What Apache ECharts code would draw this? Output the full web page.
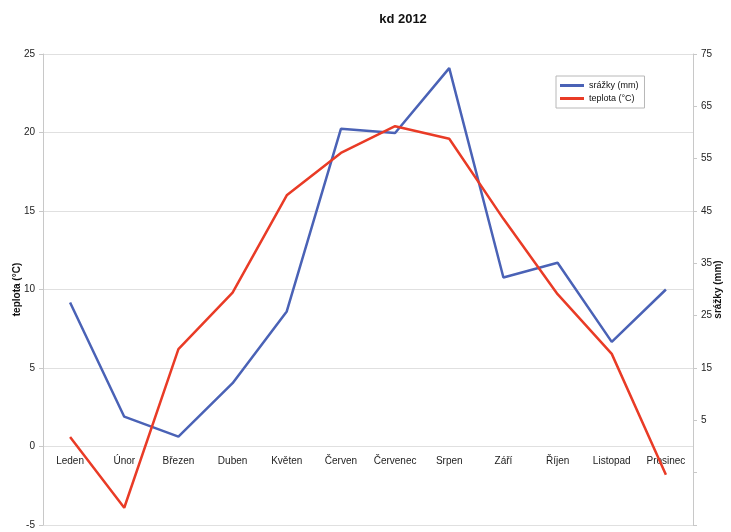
<!DOCTYPE html>
<html>
<head>
<meta charset="utf-8">
<title>kd 2012</title>
<script src="https://cdn.jsdelivr.net/npm/echarts@6/dist/echarts.min.js"></script>
<style>
    html, body { margin: 0; padding: 0; background: #fff; }
    #chart { width: 731px; height: 532px; }
</style>
</head>
<body>
<div id="chart"></div>
<script>
// měsíce
var months = ['Leden', 'Únor', 'Březen', 'Duben', 'Květen', 'Červen', 'Červenec', 'Srpen', 'Září', 'Říjen', 'Listopad', 'Prosinec'];
// srážky (mm) - pravá osa
var srazky = [27.5, 5.7, 1.9, 12.1, 25.8, 60.7, 59.9, 72.3, 32.3, 35.1, 20.0, 30.0];
// teplota (°C) - levá osa
var teplota = [0.6, -3.9, 6.2, 9.8, 16.0, 18.7, 20.4, 19.6, 14.5, 9.7, 5.9, -1.8];

var labelFont = 'Liberation Sans, Arial, sans-serif';

var myChart = echarts.init(document.getElementById('chart'));

var option = {
    animation: false,
    title: {
        text: 'kd 2012',
        left: 398,
        top: 8,
        textAlign: 'center',
        textStyle: { fontFamily: labelFont, fontSize: 13, fontWeight: 'bold', color: '#111' }
    },
    legend: {
        orient: 'vertical',
        left: 556,
        top: 76,
        padding: [5, 6, 5, 4],
        itemGap: 4,
        itemWidth: 24,
        itemHeight: 3,
        icon: 'rect',
        borderColor: '#b8b8b8',
        borderWidth: 1,
        textStyle: { fontFamily: labelFont, fontSize: 9, color: '#111' },
        data: ['srážky (mm)', 'teplota (°C)']
    },
    grid: {
        left: 43,
        right: 38,
        top: 54,
        bottom: 7,
        containLabel: false,
        outerBoundsMode: 'none'
    },
    xAxis: {
        type: 'category',
        data: months,
        boundaryGap: true,
        // popisky měsíců hned pod nulou (osa je dole, posun zápornym margin)
        axisLine: { show: false, onZero: false },
        axisTick: { show: false },
        axisLabel: { fontFamily: labelFont, fontSize: 10, color: '#222', margin: -69, interval: 0 }
    },
    yAxis: [{
        type: 'value',
        name: 'teplota (°C)',
        nameLocation: 'middle',
        nameRotate: 90,
        nameGap: 21,
        nameMoveOverlap: false,
        nameTextStyle: { fontFamily: labelFont, fontSize: 10, fontWeight: 'bold', color: '#111' },
        min: -5,
        max: 25,
        interval: 5,
        axisLine: { show: true, onZero: false, lineStyle: { color: '#c8c8c8' } },
        axisTick: { show: true, inside: false, length: 4, lineStyle: { color: '#c8c8c8' } },
        axisLabel: { fontFamily: labelFont, fontSize: 10, color: '#222', margin: 8 },
        splitLine: { show: true, lineStyle: { color: '#e0e0e0' } }
    }, {
        type: 'value',
        name: 'srážky (mm)',
        nameLocation: 'middle',
        nameRotate: 90,
        nameGap: 20,
        nameMoveOverlap: false,
        nameTextStyle: { fontFamily: labelFont, fontSize: 10, fontWeight: 'bold', color: '#111' },
        position: 'right',
        min: -15,
        max: 75,
        interval: 10,
        axisLine: { show: true, onZero: false, lineStyle: { color: '#c8c8c8' } },
        axisTick: { show: true, length: 4, lineStyle: { color: '#c8c8c8' } },
        axisLabel: {
            fontFamily: labelFont, fontSize: 10, color: '#222', margin: 8,
            formatter: function (v) { return v > 0 ? String(v) : ''; }
        },
        splitLine: { show: false }
    }],
    series: [{
        name: 'srážky (mm)',
        type: 'line',
        yAxisIndex: 1,
        data: srazky,
        symbol: 'none',
        lineStyle: { color: '#4a62b6', width: 2.5 },
        itemStyle: { color: '#4a62b6' },
        z: 3
    }, {
        name: 'teplota (°C)',
        type: 'line',
        yAxisIndex: 0,
        data: teplota,
        symbol: 'none',
        lineStyle: { color: '#e93b26', width: 2.5 },
        itemStyle: { color: '#e93b26' },
        z: 4
    }]
};

myChart.setOption(option);
</script>
</body>
</html>
